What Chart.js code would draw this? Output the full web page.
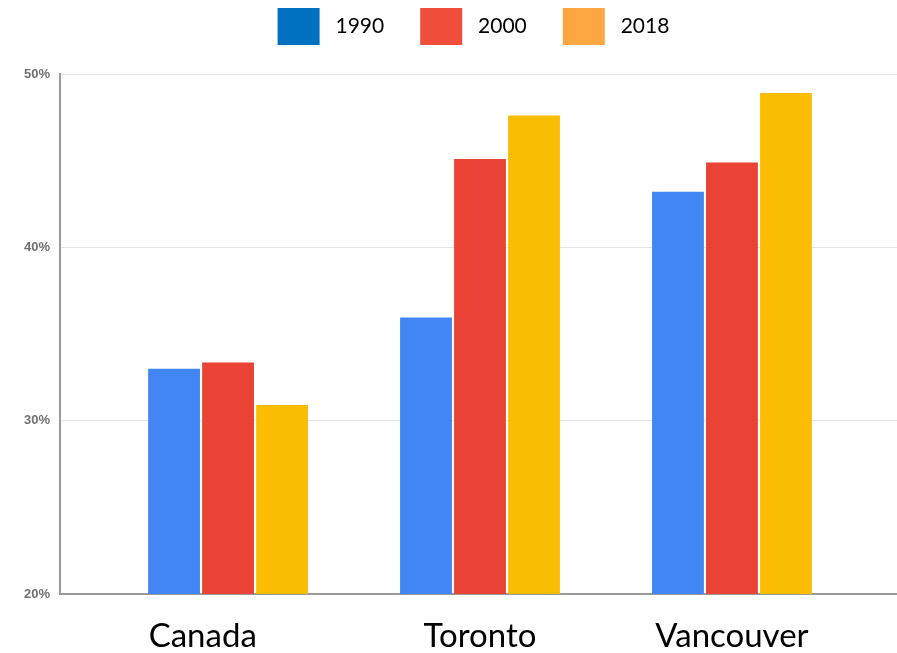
<!DOCTYPE html>
<html>
<head>
<meta charset="utf-8">
<title>1990 / 2000 / 2018</title>
<script src="https://cdn.jsdelivr.net/npm/chart.js@4/dist/chart.umd.min.js"></script>
<style>
  html, body { margin: 0; padding: 0; background: #ffffff; }
  #wrap { width: 897px; height: 653px; position: relative; }
</style>
</head>
<body>
<div id="wrap"><canvas id="chart" width="897" height="653"></canvas></div>
<script>
// Regions on the horizontal axis
const categories = ['Canada', 'Toronto', 'Vancouver'];

// Series names and their values (percent)
const seriesNames = ['1990', '2000', '2018'];
const values1990 = [33.0, 35.95, 43.2];
const values2000 = [33.35, 45.1, 44.9];
const values2018 = [30.9, 47.6, 48.9];

// Vertical axis ticks
const yTicks = [20, 30, 40, 50];

const barColors = ['#4285F4', '#EA4335', '#FBBC04'];
const legendColors = ['#0070C0', '#F04E3B', '#FBA640'];

const seriesValues = [values1990, values2000, values2018];

const datasets = seriesNames.map((name, s) => ({
  label: name,
  data: categories.map((c, i) => ({ x: i, y: seriesValues[s][i] })),
  backgroundColor: barColors[s],
  borderWidth: 0,
  categoryPercentage: 0.643,
  barPercentage: 0.96
}));

// Reshapes the legend block: fixed height and a small horizontal shift
const legendLayout = {
  id: 'legendLayout',
  beforeInit(chart) {
    const baseFit = chart.legend.fit;
    chart.legend.fit = function () {
      baseFit.call(this);
      this.height = 74;
    };
  },
  afterLayout(chart) {
    const lg = chart.legend;
    const pad = lg.options.labels.padding;
    lg.top = 8 - pad;
    lg.left += 25;
    lg.right += 25;
  }
};

new Chart(document.getElementById('chart'), {
  type: 'bar',
  data: { datasets },
  plugins: [legendLayout],
  options: {
    responsive: false,
    animation: false,
    layout: { padding: { left: 0, right: 0, top: 0, bottom: 0 } },
    plugins: {
      tooltip: { enabled: false },
      legend: {
        position: 'top',
        align: 'center',
        labels: {
          boxWidth: 42,
          boxHeight: 37,
          padding: 36,
          color: '#000000',
          font: { family: 'Lato', size: 21 },
          generateLabels: () => seriesNames.map((name, i) => ({
            text: ' ' + name,
            fillStyle: legendColors[i],
            strokeStyle: legendColors[i],
            lineWidth: 0,
            hidden: false,
            datasetIndex: i
          }))
        }
      }
    },
    scales: {
      x: {
        type: 'linear',
        offset: false,
        min: -0.667,
        max: 2.655,
        afterBuildTicks(scale) {
          scale.ticks = categories.map((c, i) => ({ value: i }));
        },
        afterFit(scale) { scale.height = 59; },
        grid: { display: true, offset: false, drawOnChartArea: false, drawTicks: false },
        border: { display: true, color: '#9a9a9a', width: 2 },
        ticks: {
          autoSkip: false,
          maxRotation: 0,
          padding: 23,
          color: '#000000',
          font: { family: 'Lato', size: 33 },
          callback: (v) => categories[v] === 'Canada' ? 'Canada      ' : categories[v]
        }
      },
      y: {
        min: yTicks[0],
        max: yTicks[yTicks.length - 1],
        afterBuildTicks(scale) {
          scale.ticks = yTicks.map(v => ({ value: v }));
        },
        afterFit(scale) { scale.width = 60; },
        grid: { color: '#e4e4e4', lineWidth: 1, drawTicks: false },
        border: { display: true, color: '#9a9a9a', width: 2 },
        ticks: {
          padding: 10,
          color: '#707070',
          font: { family: 'Liberation Sans', size: 13, weight: 'bold' },
          callback: (v) => v + '%'
        }
      }
    }
  }
});
</script>
</body>
</html>
